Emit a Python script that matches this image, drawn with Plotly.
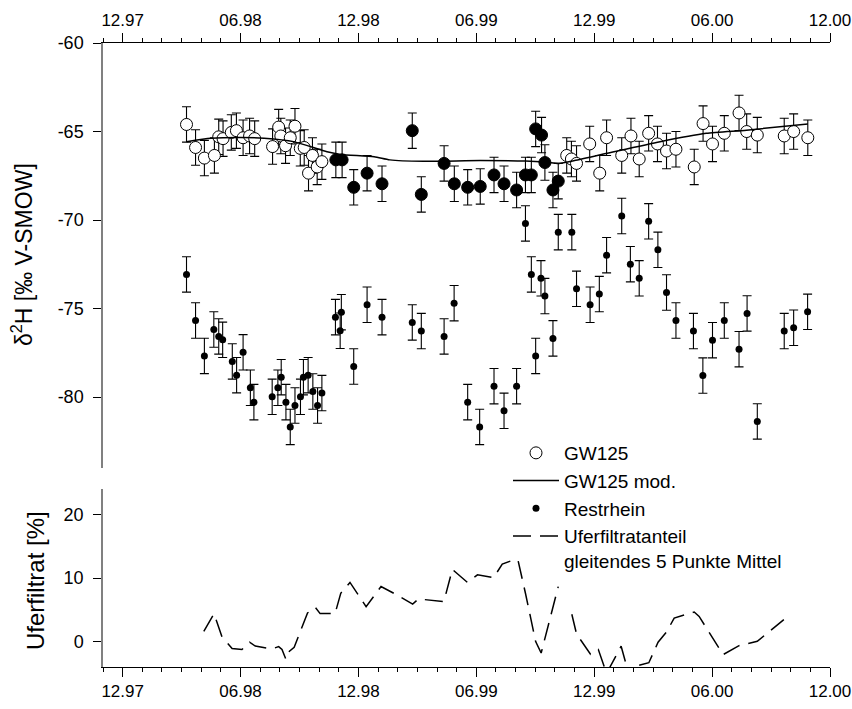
import plotly.graph_objects as go

# x positions: months after 12.97 (0 = Dec 1997)
tick_vals = [0, 6, 12, 18, 24, 30, 36]
tick_text = ["12.97", "06.98", "12.98", "06.99", "12.99", "06.00", "12.00"]
y1_ticks = [-80, -75, -70, -65, -60]
y1_text = ["-80", "-75", "-70", "-65", "-60"]
y2_ticks = [0, 10, 20]
y2_text = ["0", "10", "20"]
y1_title = "δ<sup>2</sup>H [‰ V-SMOW]"
y2_title = "Uferfiltrat [%]"

gw_open_x = [3.25, 3.71, 4.16, 4.67, 4.89, 5.11, 5.53, 5.79, 6.13, 6.46, 6.72, 7.63, 7.94, 8.05,
             8.29, 8.53, 8.77, 9.04, 9.24, 9.46, 9.66, 9.9, 10.14, 22.6, 22.84, 23.1, 23.77,
             24.28, 24.63, 25.4, 25.87, 26.29, 26.77, 27.22, 27.68, 28.16, 29.09, 29.54, 30.02,
             30.62, 31.37, 31.76, 32.3, 33.67, 34.15, 34.87]
gw_open_y = [-64.6, -65.9, -66.5, -66.35, -65.3, -65.4, -65.05, -64.95, -65.35, -65.25, -65.4,
             -65.85, -64.75, -65.25, -65.8, -65.35, -64.7, -65.95, -65.9, -67.35, -66.35, -67.0,
             -66.7, -66.35, -66.55, -66.8, -65.7, -67.35, -65.35, -66.35, -65.25, -66.55, -65.1,
             -65.7, -66.1, -66.0, -67.0, -64.55, -65.7, -65.1, -63.95, -65.0, -65.2, -65.25,
             -65.0, -65.35]

gw_fill_x = [10.85, 11.17, 11.76, 12.44, 13.2, 14.74, 15.2, 16.36, 16.88, 17.56, 18.2, 18.9,
             19.41, 20.05, 20.5, 20.8, 21.02, 21.32, 21.49, 21.9, 22.17]
gw_fill_y = [-66.6, -66.6, -68.15, -67.35, -67.95, -64.95, -68.55, -66.8, -67.95, -68.15, -68.1,
             -67.45, -67.95, -68.3, -67.45, -67.45, -64.85, -65.2, -66.75, -68.3, -67.8]
gw_err = 1.0

mod_x = [3.25, 4.5, 6.0, 7.2, 8.7, 10.4, 11.1, 12.8, 13.6, 15.3, 18.2, 20.5, 21.6, 22.2, 23.0,
         25.0, 27.35, 29.7, 31.75, 34.87]
mod_y = [-65.57, -65.38, -65.33, -65.38, -65.57, -66.14, -66.29, -66.42, -66.6, -66.68, -66.64,
         -66.67, -66.74, -66.8, -66.64, -66.14, -65.57, -65.1, -64.92, -64.58]

rh_x = [3.25, 3.71, 4.16, 4.64, 4.89, 5.09, 5.58, 5.8, 6.13, 6.5, 6.68, 7.61, 7.9, 8.07, 8.31,
        8.53, 8.77, 9.05, 9.2, 9.44, 9.68, 9.92, 10.14, 10.83, 11.07, 11.13, 11.76, 12.44, 13.2,
        14.74, 15.2, 16.36, 16.87, 17.56, 18.17, 18.9, 19.41, 20.05, 20.5, 20.8, 21.02, 21.29,
        21.49, 21.9, 22.17, 22.86, 23.1, 23.79, 24.26, 24.63, 25.4, 25.84, 26.29, 26.77, 27.24,
        27.68, 28.16, 29.05, 29.53, 30.02, 30.62, 31.37, 31.78, 32.3, 33.67, 34.15, 34.86]
rh_y = [-73.07, -75.67, -77.67, -76.18, -76.57, -76.76, -77.98, -78.76, -77.47, -79.47, -80.28,
        -79.98, -79.47, -78.87, -80.28, -81.68, -80.47, -79.98, -78.87, -78.76, -79.68, -80.47,
        -79.77, -75.48, -76.25, -75.2, -78.27, -74.78, -75.48, -75.78, -76.27, -76.57, -74.69,
        -80.28, -81.68, -79.38, -80.77, -79.38, -70.19, -73.07, -77.67, -73.29, -74.29, -76.68,
        -70.68, -70.68, -73.88, -74.78, -74.18, -71.98, -69.77, -72.49, -73.29, -70.07, -71.68,
        -74.09, -75.67, -76.27, -78.78, -76.78, -75.67, -77.29, -75.27, -81.37, -76.27, -76.08,
        -75.18]
rh_err = 1.0

uf_x = [4.13, 4.65, 5.06, 5.57, 6.07, 6.46, 6.75, 7.6, 7.94, 8.11, 8.31, 8.49, 8.73, 9.41, 9.8,
        10.05, 10.81, 11.1, 11.57, 12.39, 13.15, 13.86, 14.76, 15.05, 16.35, 16.78, 17.55, 18.06,
        18.88, 19.32, 19.95, 20.12, 20.5, 21.02, 21.3, 22.17, 22.5, 22.86, 23.1, 23.81, 24.21,
        24.63, 25.37, 25.84, 26.26, 26.78, 27.25, 27.68, 28.07, 29.09, 29.34, 30.56, 31.37, 32.3,
        33.65]
uf_y = [1.6, 4.4, 0.7, -1.1, -1.25, -0.1, -0.7, -1.15, -0.8, -1.25, -2.8, -1.5, -0.9, 4.5, 5.4,
        4.4, 4.4, 7.6, 9.3, 5.5, 8.65, 7.5, 5.9, 6.7, 6.3, 11.35, 9.3, 10.5, 10.05, 12.2, 12.9,
        12.8, 7.6, 0.0, -1.8, 8.65, None, 4.3, 1.2, -2.0, -1.25, -5.0, -0.73, -6.0, -3.75, -3.33,
        -0.1, 1.5, 3.7, 4.65, 3.95, -2.05, -0.65, 0.05, 3.45]

FONT = "Liberation Sans, Arial, sans-serif"
err_style = dict(type="constant", color="black", thickness=1.1, width=4.5)

fig = go.Figure()
fig.add_trace(go.Scatter(x=gw_open_x, y=gw_open_y, mode="markers", name="GW125",
                         marker=dict(symbol="circle", size=12, color="white",
                                     line=dict(color="black", width=1)),
                         error_y=dict(value=gw_err, **err_style),
                         xaxis="x", yaxis="y"))
fig.add_trace(go.Scatter(x=gw_fill_x, y=gw_fill_y, mode="markers", name="GW125 filled",
                         showlegend=False,
                         marker=dict(symbol="circle", size=12, color="black",
                                     line=dict(color="black", width=1)),
                         error_y=dict(value=gw_err, **err_style),
                         xaxis="x", yaxis="y"))
fig.add_trace(go.Scatter(x=mod_x, y=mod_y, mode="lines", name="GW125 mod.",
                         line=dict(color="black", width=1.5, shape="spline", smoothing=0.6),
                         xaxis="x", yaxis="y"))
fig.add_trace(go.Scatter(x=rh_x, y=rh_y, mode="markers", name="Restrhein",
                         marker=dict(symbol="circle", size=7, color="black"),
                         error_y=dict(value=rh_err, **err_style),
                         xaxis="x", yaxis="y"))
fig.add_trace(go.Scatter(x=uf_x, y=uf_y, mode="lines",
                         name="Uferfiltratanteil<br>gleitendes 5 Punkte Mittel",
                         line=dict(color="black", width=1.5, dash="18px,9px"),
                         connectgaps=False, xaxis="x2", yaxis="y2"))

xcommon = dict(range=[-1, 36], tickvals=tick_vals, ticktext=tick_text, ticks="outside",
               ticklen=9, tickwidth=1, tickcolor="black", showline=True, linecolor="black",
               linewidth=1, showgrid=False, zeroline=False, ticklabeloverflow="allow",
               automargin=False,
               tickfont=dict(size=17, color="black", family=FONT),
               minor=dict(tickvals=list(range(-1, 37)), ticks="outside", ticklen=4,
                          tickcolor="black", tickwidth=1))
ycommon = dict(ticks="outside", ticklen=8, tickwidth=1, tickcolor="black", showline=True,
               linecolor="#808080", linewidth=1.5, showgrid=False, zeroline=False,
               ticklabelstandoff=6, automargin=False,
               tickfont=dict(size=18, color="black", family=FONT))

L, R, T, B, W, H = 103, 22, 43, 42, 852, 709
PW, PH = W - L - R, H - T - B
top_dom = [(H - B - 468) / PH, 1.0]
bot_dom = [0.0, (H - B - 489) / PH]

fig.update_layout(
    width=W, height=H,
    margin=dict(l=L, r=R, t=T, b=B, autoexpand=False),
    paper_bgcolor="white", plot_bgcolor="white",
    font=dict(family=FONT, color="black"),
    xaxis=dict(anchor="y", side="top", **xcommon),
    xaxis2=dict(anchor="y2", side="bottom", matches="x", **xcommon),
    yaxis=dict(domain=top_dom, range=[-84, -60], tickvals=y1_ticks, ticktext=y1_text,
               anchor="x", **ycommon),
    yaxis2=dict(domain=bot_dom, range=[-4, 24], tickvals=y2_ticks, ticktext=y2_text,
                anchor="x2", **ycommon),
    yaxis3=dict(domain=top_dom, range=[-84, -60], overlaying="y", side="right", anchor="x",
                showline=True, linecolor="#333", linewidth=1, showticklabels=False, ticks="",
                showgrid=False, zeroline=False, automargin=False),
    yaxis4=dict(domain=bot_dom, range=[-4, 24], overlaying="y2", side="right", anchor="x2",
                showline=True, linecolor="#333", linewidth=1, showticklabels=False, ticks="",
                showgrid=False, zeroline=False, automargin=False),
    legend=dict(x=(508 - L) / PW, y=(H - B - 434) / PH, xanchor="left", yanchor="top",
                bgcolor="rgba(0,0,0,0)", font=dict(size=19, family=FONT), itemwidth=46,
                valign="top", tracegroupgap=0, itemsizing="trace"),
    showlegend=True,
    annotations=[
        dict(text=y1_title, xref="paper", yref="paper", x=(22 - L) / PW,
             y=(H - B - 255) / PH, xanchor="center", yanchor="middle", textangle=-90,
             showarrow=False, font=dict(size=23, family=FONT, color="black")),
        dict(text=y2_title, xref="paper", yref="paper", x=(35 - L) / PW,
             y=(H - B - 581) / PH, xanchor="center", yanchor="middle", textangle=-90,
             showarrow=False, font=dict(size=24, family=FONT, color="black")),
    ],
)

fig.write_html("out.html")
